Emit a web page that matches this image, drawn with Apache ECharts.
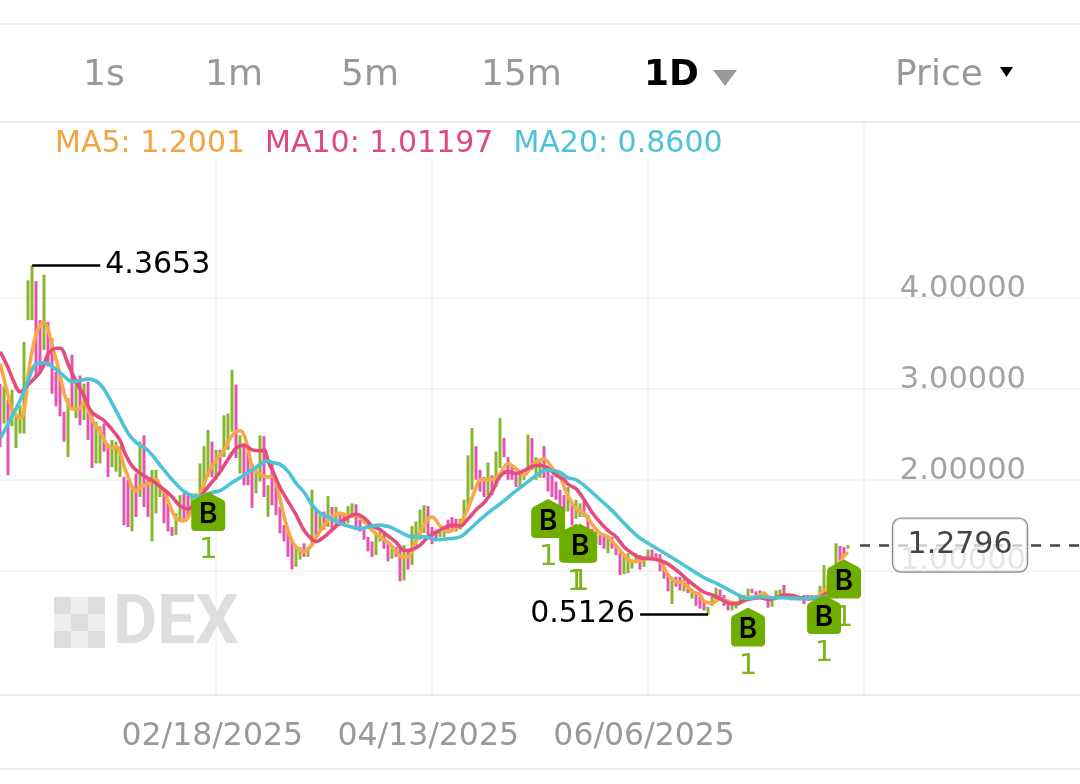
<!DOCTYPE html>
<html><head><meta charset="utf-8">
<style>html,body{margin:0;padding:0;background:#fff}#c{width:1080px;height:784px}</style>
<script src="https://cdn.jsdelivr.net/npm/echarts@6/dist/echarts.min.js"></script>
</head><body><div id="c"></div>
<script>
const highs=[3.06,3.03,2.88,2.99,2.73,2.82,3.52,4.20,4.3653,4.19,3.76,4.26,3.74,3.56,3.19,3.14,2.75,2.90,3.38,3.06,3.15,3.06,3.08,2.73,2.64,2.59,2.62,2.40,2.44,2.42,2.37,2.03,2.00,1.92,2.07,2.42,2.49,2.03,2.11,2.11,1.92,1.89,1.74,1.48,1.63,1.83,1.85,1.83,1.85,1.85,2.18,2.37,2.55,2.42,2.33,2.33,2.71,2.73,3.21,3.05,2.49,2.40,2.33,2.18,2.14,2.49,2.48,1.94,
2.18,2.00,1.70,1.50,1.45,1.34,1.26,1.26,1.30,1.26,1.89,1.67,1.61,1.65,1.82,1.70,1.70,1.63,1.61,1.71,1.74,1.73,1.56,1.46,1.37,1.32,1.39,1.43,1.43,1.30,1.24,1.26,1.26,1.28,1.23,1.49,1.54,1.67,1.72,1.71,1.48,1.45,1.43,1.46,1.56,1.59,1.57,1.57,1.78,2.27,2.57,2.37,2.11,2.03,2.19,2.05,2.31,2.68,2.46,2.25,2.16,2.07,2.07,2.05,2.50,2.46,2.25,2.22,2.37,2.11,2.05,1.98,1.89,1.83,
1.92,1.74,1.78,1.74,1.76,1.61,1.46,1.43,1.39,1.39,1.37,1.37,1.28,1.19,1.17,1.19,1.12,1.19,1.17,1.12,1.23,1.23,1.19,1.18,1.04,0.97,0.89,0.93,0.93,0.91,0.89,0.80,0.75,0.71,0.66,0.60,0.71,
0.81,0.79,0.73,0.66,0.64,0.63,0.72,0.73,0.80,0.80,0.77,0.78,0.75,0.68,0.69,0.78,0.79,0.84,0.74,0.71,0.70,0.70,0.73,0.73,0.73,0.73,0.83,1.06,0.95,1.00,1.30,1.27,1.26,1.2796];
const lows=[2.36,2.62,2.05,2.59,2.35,2.51,2.51,3.76,3.76,3.14,3.19,3.43,3.25,2.95,2.81,2.70,2.42,2.25,2.77,2.68,2.60,2.66,2.44,2.13,2.18,2.18,2.31,2.03,2.14,2.09,2.03,1.50,1.48,1.43,1.59,1.81,1.70,1.59,1.32,1.63,1.81,1.52,1.43,1.38,1.39,1.54,1.56,1.59,1.70,1.65,1.81,1.87,2.03,2.03,2.00,2.11,2.25,2.33,2.53,2.24,2.07,1.94,1.94,1.69,1.85,1.98,1.81,1.59,
1.72,1.61,1.41,1.32,1.15,1.01,1.04,1.12,1.15,1.15,1.26,1.37,1.43,1.45,1.48,1.45,1.48,1.49,1.50,1.52,1.58,1.45,1.43,1.34,1.21,1.15,1.17,1.32,1.24,1.10,1.13,1.15,0.88,0.89,1.01,1.06,1.24,1.34,1.41,1.37,1.29,1.34,1.37,1.37,1.41,1.43,1.43,1.45,1.50,1.67,1.89,2.00,1.87,1.81,1.83,1.83,1.92,2.13,2.25,2.00,2.00,1.92,1.91,2.00,2.09,2.11,2.00,2.02,2.02,1.87,1.81,1.78,1.70,1.65,
1.65,1.50,1.57,1.59,1.59,1.45,1.37,1.30,1.28,1.24,1.19,1.24,1.17,0.95,0.96,0.97,1.02,1.08,1.01,1.04,1.12,1.12,1.12,0.99,0.91,0.77,0.63,0.82,0.78,0.77,0.75,0.69,0.61,0.58,0.56,0.5126,0.61,
0.67,0.71,0.61,0.56,0.56,0.58,0.63,0.67,0.71,0.75,0.69,0.71,0.69,0.59,0.60,0.69,0.70,0.69,0.69,0.67,0.67,0.67,0.63,0.67,0.69,0.67,0.73,0.73,0.80,0.90,1.04,1.08,1.15,1.24];
const rising=[0,1,0,1,1,1,1,1,1,0,0,1,0,0,0,0,0,1,0,1,0,1,0,0,1,1,0,0,1,1,1,0,0,1,0,1,0,0,1,1,1,0,0,0,1,1,0,0,1,1,1,1,1,0,1,0,1,1,1,0,1,0,0,0,1,1,0,1,
0,0,0,0,0,0,1,1,0,1,1,0,1,0,1,0,1,0,0,1,1,0,0,0,0,0,1,1,0,0,1,0,0,1,0,1,1,1,1,0,0,0,1,1,0,0,0,1,1,1,1,0,0,0,1,0,1,1,0,0,0,0,1,1,1,0,1,1,0,0,0,0,0,0,
1,0,1,1,0,0,0,1,0,0,1,0,0,0,1,1,1,1,0,1,1,0,0,0,0,0,1,0,0,1,0,1,0,0,0,1,1,
1,0,0,0,1,1,1,1,1,0,0,0,1,0,1,1,1,0,0,1,1,1,0,0,1,1,1,1,1,0,1,0,0,1];
const ma5=[[0,3.28],[2,2.92],[3,2.77],[5,2.68],[6,2.77],[7,3.17],[8,3.43],[9,3.61],[10,3.71],[11,3.73],[12,3.65],[13,3.47],[14,3.32],[15,3.14],[16,2.95],[17,2.83],[18,2.78],[19,2.78],[20,2.79],[21,2.86],[22,2.77],[23,2.66],[24,2.59],[25,2.53],[26,2.44],[27,2.36],[28,2.35],[29,2.36],[30,2.29],[31,2.14],[32,2.03],[33,1.92],[34,1.88],[35,1.92],[37,1.96],[39,2.00],[40,1.92],[41,1.87],[42,1.76],[43,1.65],[44,1.57],[45,1.55],[46,1.55],[47,1.59],[48,1.70],[50,1.85],[52,2.07],[54,2.22],[56,2.33],[57,2.42],[58,2.49],[59,2.53],[60,2.54],[61,2.49],[62,2.33],[63,2.14],[64,2.09],[65,2.06],[66,2.04],[67,2.03],
[68,2.04],[69,1.96],[70,1.78],[71,1.59],[73,1.32],[75,1.22],[76,1.21],[77,1.23],[79,1.37],[81,1.50],[83,1.60],[85,1.63],[87,1.61],[89,1.61],[91,1.54],[93,1.44],[95,1.37],[97,1.31],[99,1.21],[100,1.16],[102,1.15],[103,1.23],[105,1.43],[107,1.57],[108,1.59],[110,1.49],[112,1.43],[114,1.47],[115,1.51],[117,1.69],[119,1.92],[120,2.00],[122,2.00],[124,2.02],[125,2.07],[127,2.18],[129,2.12],[131,2.05],[133,2.16],[135,2.22],[136,2.23],[138,2.13],[140,2.03],[141,1.92],[142,1.82],
[144,1.68],[146,1.63],[148,1.51],[150,1.41],[152,1.37],[154,1.27],[156,1.17],[158,1.10],[160,1.11],[162,1.13],[164,1.13],[165,1.11],[167,0.95],[169,0.88],[171,0.86],[173,0.77],[175,0.73],[176,0.66],[178,0.64],[180,0.69],[182,0.66],[184,0.64],[186,0.66],
[187,0.70],[189,0.71],[191,0.75],[192,0.71],[194,0.69],[196,0.73],[198,0.73],[200,0.70],[202,0.69],[204,0.70],[205,0.74],[207,0.83],[209,1.02],[211,1.16],[212,1.2001]];
const ma10=[[0,3.41],[2,3.23],[3,3.12],[5,2.97],[7,3.05],[9,3.14],[10,3.19],[11,3.28],[12,3.39],[14,3.45],[15,3.45],[17,3.27],[19,3.08],[21,2.92],[22,2.81],[23,2.74],[25,2.68],[26,2.65],[28,2.55],[30,2.43],[31,2.31],[33,2.15],[35,2.07],[38,1.99],[41,1.89],[43,1.81],[45,1.71],[47,1.68],[49,1.76],[51,1.87],[53,1.98],[55,2.09],[57,2.23],[59,2.35],[61,2.38],[63,2.33],[65,2.32],[66,2.33],[67,2.20],
[68,2.11],[70,1.91],[72,1.76],[74,1.61],[76,1.44],[78,1.34],[79,1.32],[81,1.37],[84,1.49],[86,1.56],[89,1.62],[91,1.58],[93,1.49],[95,1.45],[97,1.38],[99,1.31],[101,1.22],[103,1.23],[105,1.28],[107,1.37],[109,1.42],[111,1.47],[113,1.50],[115,1.49],[117,1.57],[119,1.67],[121,1.75],[123,1.87],[125,2.04],[127,2.09],[129,2.07],[131,2.10],[133,2.15],[135,2.16],[137,2.13],[139,2.05],[141,2.00],[142,1.95],
[144,1.90],[146,1.78],[148,1.64],[150,1.53],[152,1.44],[154,1.37],[156,1.26],[158,1.19],[160,1.14],[163,1.13],[165,1.11],[167,1.07],[170,0.97],[172,0.89],[174,0.82],[176,0.76],[178,0.73],[180,0.69],[182,0.64],[184,0.63],[186,0.67],[188,0.69],
[190,0.70],[192,0.68],[194,0.70],[196,0.73],[198,0.72],[200,0.70],[202,0.69],[204,0.69],[206,0.73],[208,0.80],[210,0.93],[212,1.01197]];
const ma20=[[0,2.46],[2,2.62],[5,2.88],[7,3.10],[9,3.28],[11,3.29],[13,3.25],[16,3.14],[18,3.08],[22,3.11],[25,3.05],[28,2.84],[32,2.51],[34,2.41],[37,2.32],[40,2.16],[43,2.00],[46,1.87],[49,1.81],[51,1.83],[53,1.86],[55,1.88],[58,1.97],[61,2.05],[64,2.14],[67,2.21],
[68,2.19],[70,2.17],[72,2.09],[74,1.96],[76,1.86],[78,1.72],[80,1.63],[83,1.57],[85,1.52],[87,1.49],[90,1.46],[92,1.48],[95,1.50],[98,1.47],[101,1.40],[103,1.37],[106,1.37],[109,1.34],[112,1.35],[115,1.37],[117,1.44],[120,1.56],[123,1.67],[126,1.77],[129,1.88],[132,1.98],[135,2.08],[137,2.11],[140,2.08],[142,2.02],
[144,2.00],[147,1.90],[150,1.78],[153,1.66],[156,1.52],[159,1.39],[162,1.30],[165,1.22],[168,1.14],[172,1.03],[176,0.92],[179,0.86],[182,0.79],[185,0.72],[187,0.69],
[190,0.71],[193,0.70],[196,0.70],[200,0.69],[204,0.70],[206,0.71],[209,0.76],[212,0.86]];
const buyMarks=[[52,1.65],[137,1.573],[144,1.30],[145,1.30],[187,0.377],[211,0.906],[206,0.515]];
const priceTicks=[1,2,3,4];
const dateTickIndex=[54,108,162];
const gridTickIndex=[54,108,162,216];
const highPoint={index:8,value:4.3653,label:'4.3653'};
const lowPoint={index:177,value:0.5126,label:'0.5126'};
const lastPrice=1.2796;
const startDate='2024-12-26', categoryCount=271;

const categories=[];
for(let i=0;i<categoryCount;i++){
  const d=new Date(Date.parse(startDate+'T00:00:00Z')+i*86400000);
  categories.push(String(d.getUTCMonth()+1).padStart(2,'0')+'/'+String(d.getUTCDate()).padStart(2,'0')+'/'+d.getUTCFullYear());
}
const candles=highs.map((h,i)=>rising[i]?[lows[i],h,lows[i],h]:[h,lows[i],lows[i],h]);
const FONT='DejaVu Sans';
const GREEN='#8ab52f',PINK='#e256ad';
const tab=(t,x,c,w)=>({type:'text',z:10,style:{text:t,x:x,y:76,fill:c,font:(w||'400')+' 36px '+FONT,textVerticalAlign:'middle'}});
const line=(y)=>({type:'rect',z:1,shape:{x:0,y:y-1,width:1080,height:2},style:{fill:'#eeeeee'}});
const sq=(x,y,c)=>({type:'rect',z:1,shape:{x:x,y:y,width:17,height:17},style:{fill:c}});
const chart=echarts.init(document.getElementById('c'),null,{renderer:'canvas'});
const lineSeries=(name,data,color)=>({name,type:'line',data,xAxisIndex:0,yAxisIndex:0,showSymbol:false,symbol:'none',smooth:0.35,z:3,
  lineStyle:{color,width:3.6},itemStyle:{color},connectNulls:true,silent:true});
chart.setOption({
  animation:false,backgroundColor:'#fff',
  legend:{left:55,top:129,z:10,itemGap:20,itemWidth:0,itemHeight:0,padding:0,
    formatter:n=>n==='MA5'?'MA5: 1.2001':n==='MA10'?'MA10: 1.01197':'MA20: 0.8600',
    textStyle:{fontFamily:FONT,fontSize:30,padding:[0,0,0,-5]},
    data:[{name:'MA5',icon:'none',textStyle:{color:'#f2a53f'}},{name:'MA10',icon:'none',textStyle:{color:'#dd4a80'}},{name:'MA20',icon:'none',textStyle:{color:'#4cc3d6'}}]},
  grid:[{left:0.3,width:1080,top:122,bottom:89},{left:0,right:0,top:298,bottom:213.5}],
  xAxis:[{type:'category',gridIndex:0,data:categories,boundaryGap:false,
      axisLine:{onZero:false,lineStyle:{color:'#eeeeee',width:2}},axisTick:{show:false},
      axisLabel:{color:'#999',fontFamily:FONT,fontSize:31.5,margin:26,padding:[0,8,0,0],interval:(i)=>dateTickIndex.includes(i)},
      splitLine:{show:true,interval:(i)=>gridTickIndex.includes(i),lineStyle:{color:'#f2f2f2',width:1.5}}},
    {type:'value',gridIndex:1,min:0,max:1,show:false}],
  yAxis:[{type:'value',gridIndex:0,min:-0.373,max:5.945,show:false,splitLine:{show:false}},
    {type:'value',gridIndex:1,position:'right',min:priceTicks[0],max:priceTicks[3],interval:1,
      axisLine:{show:false},axisTick:{show:false},
      axisLabel:{inside:true,margin:54,align:'right',verticalAlign:'bottom',lineHeight:18,color:'#a3a3a3',fontFamily:FONT,fontSize:30.5,formatter:v=>v.toFixed(5)},
      splitLine:{show:true,lineStyle:{color:'#f2f2f2',width:1.5}}}],
  series:[
    {name:'Price',type:'candlestick',data:candles,xAxisIndex:0,yAxisIndex:0,barWidth:3.6,z:2,
      itemStyle:{color:GREEN,color0:PINK,borderColor:GREEN,borderColor0:PINK,borderWidth:0},
      markLine:{silent:true,symbol:'none',animation:false,z:4,data:[
        [{coord:[highPoint.index,highPoint.value],lineStyle:{color:'#000',width:2.6,type:'solid'},label:{show:true,position:'end',formatter:highPoint.label,color:'#000',fontFamily:FONT,fontSize:30,distance:5,padding:[4,0,0,0]}},{coord:[25,highPoint.value]}],
        [{coord:[lowPoint.index,lowPoint.value],lineStyle:{color:'#000',width:2.6,type:'solid'},label:{show:true,position:'end',formatter:lowPoint.label,color:'#000',fontFamily:FONT,fontSize:30,distance:5,padding:[4,0,0,0]}},{coord:[160,lowPoint.value]}],
        [{coord:[215,lastPrice],lineStyle:{color:'#444',width:2.6,type:[10,9]},label:{show:false}},{coord:[270,lastPrice]}]
      ]},
      markPoint:{silent:true,animation:false,z:6,symbol:'circle',symbolSize:1,itemStyle:{color:'transparent'},data:[
        {coord:[240,lastPrice],label:{show:true,position:'inside',formatter:String(lastPrice),color:'#444',fontFamily:FONT,fontSize:30,
          backgroundColor:'rgba(255,255,255,0.72)',borderColor:'#8a8a8a',borderWidth:1.2,borderRadius:8,width:134,height:53,lineHeight:57,align:'center',verticalAlign:'middle'}}
      ]}},
    lineSeries('MA5',ma5,'#f8a845'),lineSeries('MA10',ma10,'#e64b7d'),lineSeries('MA20',ma20,'#4cc3d6'),
    {name:'buyCount',type:'scatter',data:buyMarks,xAxisIndex:0,yAxisIndex:0,symbolSize:1,itemStyle:{color:'transparent',opacity:1},z:5,silent:true,
      label:{show:true,position:'inside',offset:[0,39],formatter:'1',color:'#80b41f',opacity:1,fontFamily:FONT,fontSize:29}},
    {name:'buy',type:'scatter',xAxisIndex:0,yAxisIndex:0,z:6,silent:true,
      data:buyMarks.map((m,i)=>i===2?{value:m,label:{show:false}}:{value:m}),
      symbol:'path://M17 0 L32 8 Q34 9.2 34 12 L34 35 Q34 39 30 39 L4 39 Q0 39 0 35 L0 12 Q0 9.2 2 8 Z',symbolSize:[34,39],symbolKeepAspect:false,
      itemStyle:{color:'#6fae00',opacity:1},label:{show:true,position:'inside',offset:[0,3],formatter:'B',color:'#000',opacity:1,fontFamily:'Inter',fontWeight:600,fontSize:28}}
  ],
  graphic:[
    line(24),line(122),line(769),
    {type:'rect',z:3,shape:{x:0,y:123,width:735,height:34},style:{fill:'#fff'}},
    tab('1s',83,'#999'),tab('1m',205,'#999'),tab('5m',341,'#999'),tab('15m',481,'#999'),tab('1D',644,'#000','700'),tab('Price',895,'#999'),
    {type:'polygon',z:10,shape:{points:[[713,70],[737,70],[725,86]]},style:{fill:'#999'}},
    {type:'polygon',z:10,shape:{points:[[1000,67],[1013,67],[1006.5,77]]},style:{fill:'#000'}},
    sq(54,597,'#dedede'),sq(71,597,'#eeeeee'),sq(88,597,'#dedede'),
    sq(54,614,'#eeeeee'),sq(71,614,'#dedede'),sq(88,614,'#eeeeee'),
    sq(54,631,'#dedede'),sq(71,631,'#eeeeee'),sq(88,631,'#dedede'),
    {type:'text',z:1,style:{text:'DEX',x:113,y:626,fill:'#dedede',font:'700 68px Roboto',textVerticalAlign:'middle'}}
  ]
});
</script></body></html>
